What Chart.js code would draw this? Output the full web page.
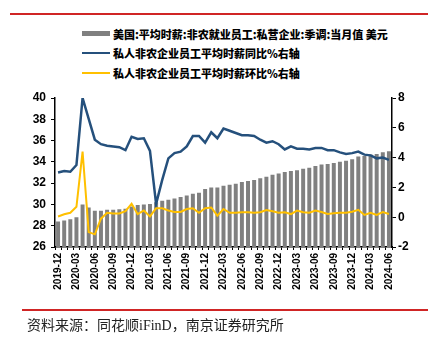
<!DOCTYPE html>
<html>
<head>
<meta charset="utf-8">
<script src="https://cdn.jsdelivr.net/npm/chart.js@4.4.1/dist/chart.umd.min.js"></script>
<style>
  html, body { margin: 0; padding: 0; background: #fff; }
  #wrap { position: relative; width: 428px; height: 345px; overflow: hidden; }
  #chart { position: absolute; left: 0; top: 0; }
  .rule { position: absolute; background: #d02525; }
  .legend { position: absolute; left: 82px; top: 24px; font-family: "Noto Sans CJK SC", sans-serif; font-weight: 900; font-size: 11px; color: #000; }
  .legend .row { height: 19.5px; display: flex; align-items: center; white-space: nowrap; }
  .legend .mk { width: 28px; margin-right: 3px; }
  .source { position: absolute; left: 27px; top: 314px; font-family: "Liberation Serif", "Noto Sans CJK SC", serif; font-size: 14px; color: #222; white-space: nowrap; }
</style>
</head>
<body>
<div id="wrap">
  <div class="rule" style="left:10px; top:13px; width:418px; height:2px;"></div>
  <div class="legend">
    <div class="row"><span class="mk" style="height:5px; background:#808080;"></span>美国:平均时薪:非农就业员工:私营企业:季调:当月值 美元</div>
    <div class="row"><span class="mk" style="height:2px; background:#25507c;"></span>私人非农企业员工平均时薪同比%右轴</div>
    <div class="row"><span class="mk" style="height:2px; background:#ffc000;"></span>私人非农企业员工平均时薪环比%右轴</div>
  </div>
  <canvas id="chart" width="428" height="345"></canvas>
  <div class="rule" style="left:22px; top:309px; width:406px; height:1.5px;"></div>
  <div class="source">资料来源：同花顺iFinD，南京证券研究所</div>
</div>
<script>
// monthly categories
const months = [
  '2019-12',
  '2020-01','2020-02','2020-03','2020-04','2020-05','2020-06','2020-07','2020-08','2020-09','2020-10','2020-11','2020-12',
  '2021-01','2021-02','2021-03','2021-04','2021-05','2021-06','2021-07','2021-08','2021-09','2021-10','2021-11','2021-12',
  '2022-01','2022-02','2022-03','2022-04','2022-05','2022-06','2022-07','2022-08','2022-09','2022-10','2022-11','2022-12',
  '2023-01','2023-02','2023-03','2023-04','2023-05','2023-06','2023-07','2023-08','2023-09','2023-10','2023-11','2023-12',
  '2024-01','2024-02','2024-03','2024-04','2024-05','2024-06'
];
// labels shown on the x axis
const shownTicks = ['2019-12','2020-03','2020-06','2020-09','2020-12','2021-03','2021-06','2021-09','2021-12',
  '2022-03','2022-06','2022-09','2022-12','2023-03','2023-06','2023-09','2023-12','2024-03','2024-06'];

// average hourly earnings, USD (left axis)
const wage = [
  28.4,
  28.5, 28.6, 28.8, 30.0, 29.7, 29.4, 29.4, 29.5, 29.5, 29.55, 29.6, 29.8,
  29.95, 30.0, 30.05, 30.2, 30.35, 30.45, 30.55, 30.7, 30.85, 31.0, 31.1, 31.45,
  31.6, 31.6, 31.75, 31.85, 31.95, 32.1, 32.2, 32.3, 32.45, 32.6, 32.8, 32.9,
  33.05, 33.15, 33.2, 33.35, 33.45, 33.6, 33.75, 33.8, 33.9, 34.0, 34.1, 34.25,
  34.5, 34.55, 34.7, 34.75, 34.9, 35.0
];
// YoY %, right axis
const yoy = [
  3.0,
  3.1, 3.05, 3.5, 8.0, 6.6, 5.2, 4.9, 4.8, 4.75, 4.7, 4.5, 5.4,
  5.25, 5.3, 4.45, 0.9, 2.5, 3.95, 4.3, 4.4, 4.75, 5.45, 5.45, 5.0,
  5.7, 5.3, 5.95, 5.8, 5.65, 5.5, 5.5, 5.45, 5.2, 5.0, 5.1, 4.9,
  4.55, 4.75, 4.6, 4.6, 4.55, 4.65, 4.65, 4.5, 4.5, 4.35, 4.25, 4.3,
  4.4, 4.2, 4.15, 3.95, 4.0, 3.85
];
// MoM %, right axis
const mom = [
  0.05,
  0.2, 0.3, 0.7, 4.4, -1.0, -1.15, -0.1, 0.3, 0.25, 0.25, 0.4, 0.9,
  0.2, 0.45, 0.05, 0.6, 0.6, 0.45, 0.35, 0.35, 0.55, 0.6, 0.3, 0.6,
  0.65, 0.1, 0.55, 0.3, 0.3, 0.33, 0.33, 0.3, 0.33, 0.48, 0.4, 0.3,
  0.33, 0.21, 0.44, 0.33, 0.3, 0.44, 0.35, 0.21, 0.26, 0.3, 0.3, 0.37,
  0.5, 0.15, 0.3, 0.15, 0.35, 0.21
];

const tickFont = { family: '"Liberation Sans", Arial, sans-serif', weight: 'bold', size: 12 };

new Chart(document.getElementById('chart'), {
  data: {
    labels: months,
    datasets: [
      {
        type: 'line', data: mom, yAxisID: 'y1',
        borderColor: '#ffc000', borderWidth: 2, pointRadius: 0, tension: 0, order: 1
      },
      {
        type: 'line', data: yoy, yAxisID: 'y1',
        borderColor: '#25507c', borderWidth: 2.5, pointRadius: 0, tension: 0, order: 2
      },
      {
        type: 'bar', data: wage, yAxisID: 'y',
        backgroundColor: '#808080', barPercentage: 0.65, categoryPercentage: 1, order: 3
      }
    ]
  },
  options: {
    responsive: false,
    animation: false,
    devicePixelRatio: 1,
    layout: { padding: { top: 98, left: 0, right: 0, bottom: 0 } },
    plugins: { legend: { display: false }, tooltip: { enabled: false } },
    scales: {
      x: {
        offset: true,
        border: { color: '#000', width: 1.5 },
        grid: { drawOnChartArea: false, color: '#000', tickLength: 3 },
        ticks: {
          autoSkip: false, minRotation: 90, maxRotation: 90, padding: 3,
          color: '#000',
          font: { family: '"Liberation Sans", Arial, sans-serif', weight: 'bold', size: 10 },
          callback: function(v, i) { return shownTicks.includes(months[i]) ? months[i] : ''; }
        },
        afterFit: function(s) { s.height = 98; }
      },
      y: {
        position: 'left', min: 26, max: 40,
        border: { color: '#000', width: 1.5 },
        grid: { drawOnChartArea: false, color: '#000', tickLength: 4 },
        ticks: { stepSize: 2, color: '#000', font: tickFont, padding: 5 },
        afterFit: function(s) { s.width = 55; }
      },
      y1: {
        position: 'right', min: -2, max: 8,
        border: { color: '#000', width: 1.5 },
        grid: { drawOnChartArea: false, color: '#000', tickLength: 4 },
        ticks: { stepSize: 1, color: '#000', font: tickFont, padding: 2 },
        afterFit: function(s) { s.width = 36; }
      }
    }
  }
});
</script>
</body>
</html>
